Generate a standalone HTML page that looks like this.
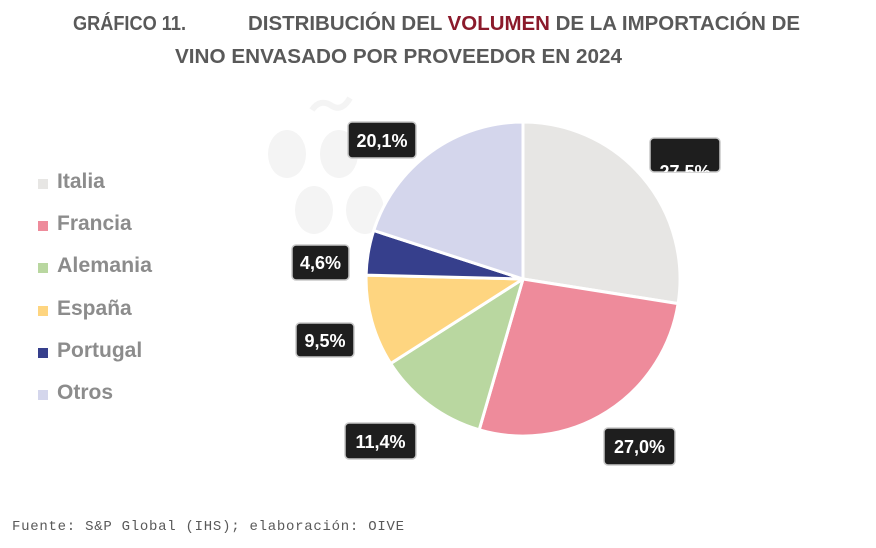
<!DOCTYPE html>
<html><head><meta charset="utf-8"><style>
html,body{margin:0;padding:0;background:#fff;}
svg{display:block;font-family:"Liberation Sans",sans-serif;}
</style></head><body>
<svg width="876" height="548" viewBox="0 0 876 548" xmlns="http://www.w3.org/2000/svg">
<rect width="876" height="548" fill="#fff"/>
<g font-weight="bold" font-size="20" fill="#595959">
<text x="73" y="30" textLength="113" lengthAdjust="spacingAndGlyphs">GRÁFICO 11.</text>
<text x="248" y="30" textLength="552" lengthAdjust="spacingAndGlyphs">DISTRIBUCIÓN DEL <tspan fill="#8b1a2b">VOLUMEN</tspan> DE LA IMPORTACIÓN DE</text>
<text x="175" y="63" textLength="447" lengthAdjust="spacingAndGlyphs">VINO ENVASADO POR PROVEEDOR EN 2024</text>
</g>
<g fill="#f4f4f4">
<ellipse cx="287" cy="154" rx="19" ry="24"/>
<ellipse cx="339" cy="154" rx="19" ry="24"/>
<ellipse cx="314" cy="210" rx="19" ry="24"/>
<ellipse cx="365" cy="210" rx="19" ry="24"/>
<path d="M312 110 q8 -12 20 -4 q10 6 18 -8" stroke="#f4f4f4" stroke-width="6" fill="none"/>
</g>
<g stroke="#fff" stroke-width="3" stroke-linejoin="round">
<path d="M523 279 L523 122 A157 157 0 0 1 678.1 303.6 Z" fill="#e7e6e4"/>
<path d="M523 279 L678.1 303.6 A157 157 0 0 1 479.2 429.8 Z" fill="#ee8b9b"/>
<path d="M523 279 L479.2 429.8 A157 157 0 0 1 390.7 363.5 Z" fill="#b9d7a0"/>
<path d="M523 279 L390.7 363.5 A157 157 0 0 1 366.1 275.1 Z" fill="#fed580"/>
<path d="M523 279 L366.1 275.1 A157 157 0 0 1 373.7 230.5 Z" fill="#363f8c"/>
<path d="M523 279 L373.7 230.5 A157 157 0 0 1 523 122 Z" fill="#d4d6ec"/>
</g>
<g fill="#1e1e1e" stroke="#c8c8c8" stroke-width="1.5">
<rect x="348" y="122" width="68" height="36" rx="4"/>
<rect x="650" y="138" width="70" height="34" rx="4"/>
<rect x="292" y="245" width="57" height="35" rx="4"/>
<rect x="296" y="323" width="58" height="34" rx="4"/>
<rect x="345" y="423" width="71" height="36" rx="4"/>
<rect x="604" y="428" width="71" height="37" rx="4"/>
</g>
<g fill="#fff" font-weight="bold" font-size="18" text-anchor="middle">
<text x="382" y="147">20,1%</text>
<svg x="650" y="138" width="70" height="34" overflow="hidden"><text x="35" y="40" fill="#fff">27,5%</text></svg>
<text x="320.5" y="269">4,6%</text>
<text x="325" y="347">9,5%</text>
<text x="380.5" y="448">11,4%</text>
<text x="639.5" y="453">27,0%</text>
</g>
<g font-weight="bold" font-size="21" fill="#8c8c8c">
<rect x="38" y="179" width="10" height="10" fill="#e7e6e4"/><text x="57" y="188">Italia</text>
<rect x="38" y="221" width="10" height="10" fill="#ee8b9b"/><text x="57" y="230">Francia</text>
<rect x="38" y="263" width="10" height="10" fill="#b9d7a0"/><text x="57" y="272" textLength="95" lengthAdjust="spacingAndGlyphs">Alemania</text>
<rect x="38" y="306" width="10" height="10" fill="#fed580"/><text x="57" y="315">España</text>
<rect x="38" y="348" width="10" height="10" fill="#363f8c"/><text x="57" y="357">Portugal</text>
<rect x="38" y="390" width="10" height="10" fill="#d4d6ec"/><text x="57" y="399">Otros</text>
</g>
<text x="12" y="530" font-family="Liberation Mono,monospace" font-size="14" fill="#595959" textLength="392" lengthAdjust="spacing">Fuente: S&amp;P Global (IHS); elaboración: OIVE</text>
</svg>
</body></html>
